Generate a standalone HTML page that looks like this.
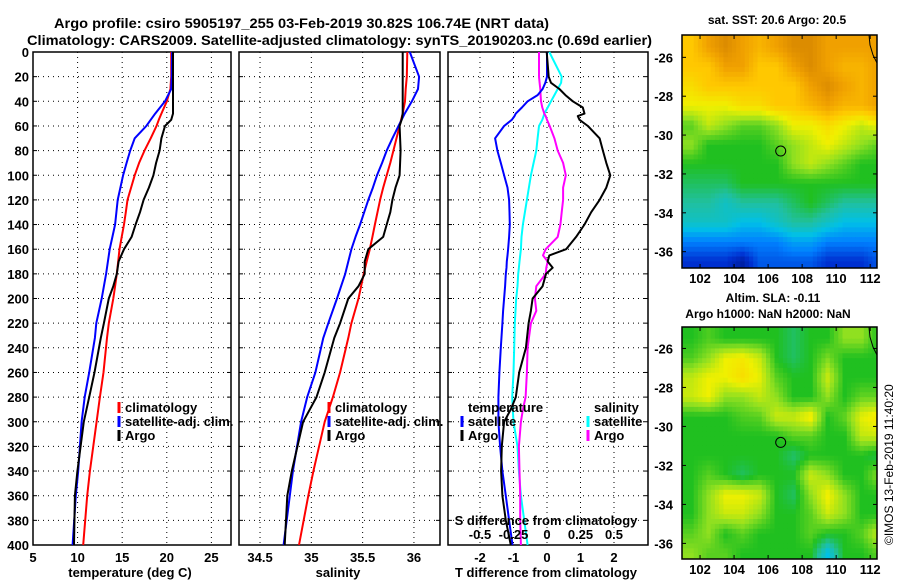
<!DOCTYPE html>
<html><head><meta charset="utf-8">
<style>
html,body{margin:0;padding:0;background:#fff;}
svg{display:block;font-family:"Liberation Sans",Arial,sans-serif;font-weight:bold;}
</style></head>
<body>
<svg id="fig" width="900" height="580" viewBox="0 0 900 580" xmlns="http://www.w3.org/2000/svg">
<text x="54" y="28" font-size="14" textLength="495" lengthAdjust="spacingAndGlyphs">Argo profile: csiro 5905197_255 03-Feb-2019 30.82S 106.74E (NRT data)</text>
<text x="27" y="45" font-size="14" textLength="625" lengthAdjust="spacingAndGlyphs">Climatology: CARS2009. Satellite-adjusted climatology: synTS_20190203.nc (0.69d earlier)</text>
<g id="p1"></g>
<g id="p2"></g>
<g id="p3"></g>
<g id="m1"></g>
<g id="m2"></g>
<text transform="translate(893,545) rotate(-90)" font-size="12" font-weight="normal">©IMOS 13-Feb-2019 11:40:20</text>
</svg>
<script>
// ---------------- data ----------------
const depths = [0,20,30,40,50,55,60,70,80,90,100,110,120,130,140,150,160,170,180,190,200,220,232,260,280,300,340,360,400];
const tempClim = [20.5,20.5,20.4,20.0,19.4,19.1,18.85,18.2,17.5,16.9,16.4,16.0,15.6,15.4,15.2,14.95,14.7,14.55,14.4,14.2,14.0,13.5,13.3,12.9,12.5,12.13,11.38,11.08,10.63];
const tempSat = [20.6,20.55,20.5,19.8,18.7,18.2,17.7,16.4,15.9,15.5,15.1,14.8,14.5,14.35,14.2,13.9,13.6,13.4,13.2,12.95,12.7,12.1,11.94,11.3,10.8,10.45,10.07,9.8,9.44];
const tempArgo = [20.7,20.7,20.7,20.7,20.7,20.5,19.8,19.4,19.2,18.8,18.5,18.0,17.4,17.0,16.5,16.05,15.2,14.6,14.4,14.0,13.5,12.95,12.6,11.9,11.3,10.7,9.98,9.7,9.6];
const salClim = [35.935,35.93,35.92,35.913,35.89,35.875,35.86,35.83,35.80,35.77,35.735,35.70,35.67,35.645,35.62,35.595,35.57,35.54,35.51,35.485,35.46,35.39,35.36,35.28,35.21,35.13,35.02,34.97,34.88];
const salSat = [35.96,36.05,36.04,35.98,35.91,35.88,35.85,35.79,35.735,35.69,35.64,35.60,35.555,35.515,35.475,35.43,35.39,35.36,35.33,35.29,35.25,35.165,35.117,35.04,34.96,34.90,34.82,34.79,34.73];
const salArgo = [35.89,35.89,35.89,35.89,35.89,35.88,35.86,35.865,35.87,35.865,35.86,35.82,35.79,35.77,35.735,35.70,35.555,35.52,35.52,35.46,35.36,35.28,35.224,35.13,35.05,34.92,34.81,34.766,34.74];
const diffDepths = [0,20,25,30,35,40,45,50,52,55,60,70,80,90,100,110,120,130,140,150,160,165,170,175,180,190,200,210,220,240,260,280,290,300,320,340,360,380,400];
const dTsat = [0,0,-0.05,-0.13,-0.28,-0.58,-0.75,-0.93,-0.97,-1.05,-1.28,-1.55,-1.48,-1.38,-1.28,-1.18,-1.13,-1.12,-1.11,-1.13,-1.16,-1.18,-1.2,-1.21,-1.23,-1.25,-1.28,-1.31,-1.33,-1.38,-1.42,-1.45,-1.45,-1.45,-1.4,-1.33,-1.23,-1.13,-1.03];
const dTargo = [-0.01,0.05,0.12,0.37,0.55,0.77,1.07,1.12,0.92,0.97,1.22,1.57,1.67,1.77,1.89,1.77,1.57,1.32,1.12,0.87,0.57,0.07,0.02,0.17,-0.03,-0.13,-0.43,-0.48,-0.55,-0.63,-0.83,-0.93,-1.08,-1.28,-1.35,-1.37,-1.33,-1.23,-1.08];
const dSsat = [0.0175,0.11,0.105,0.08,0.055,0.03,0.005,-0.02,-0.025,-0.035,-0.06,-0.07,-0.08,-0.10,-0.12,-0.135,-0.15,-0.165,-0.18,-0.19,-0.195,-0.2,-0.205,-0.21,-0.215,-0.22,-0.23,-0.235,-0.24,-0.245,-0.25,-0.26,-0.255,-0.25,-0.22,-0.21,-0.195,-0.17,-0.145];
const dSargo = [-0.06,-0.06,-0.055,-0.05,-0.048,-0.045,-0.035,-0.02,-0.01,0.0,0.02,0.055,0.08,0.12,0.14,0.12,0.12,0.11,0.1,0.08,-0.01,-0.03,0.005,-0.005,-0.01,-0.08,-0.09,-0.08,-0.12,-0.145,-0.15,-0.16,-0.18,-0.195,-0.21,-0.205,-0.2,-0.2,-0.195];
const depthTicks = [0,20,40,60,80,100,120,140,160,180,200,220,240,260,280,300,320,340,360,380,400];
const tempTicks = [5,10,15,20,25];
const salTicks = [34.5,35,35.5,36];
const tdTicks = [-2,-1,0,1,2];
const sdTicks = [-0.5,-0.25,0,0.25,0.5];
const sdLabels = ["-0.5","-0.25","0","0.25","0.5"];
const latTicks = [-26,-28,-30,-32,-34,-36];
const lonTicks = [102,104,106,108,110,112];
const argoLon = 106.74, argoLat = -30.82;
// map grids: cell centres at lat -25.5,-26.5,... and lon 101.5,102.5,...; colour index 0..10
const sstGrid = [
[8,9,9.5,9,8.5,9,9.5,9.5,9,9,9,9],
[8,8,9,9,8,8,9,9.5,9,8.5,8.5,9],
[7.5,8,8,8,8,8,8,9,9.5,9,8.5,9],
[7,7,7,7.5,7.5,8,8,8.5,9,8.5,8.5,9],
[5.5,6.5,6,5.5,5.5,6,7,7,7.5,7,6.5,7],
[6,5,5,5,5,5.5,6,6.5,7,6.5,6,5.5],
[5,5,5,5,5,5,6,6.5,6,5.5,5,5],
[4.5,4.5,4.5,5,5,5,5,5,5,5,5,5],
[4,4,3.5,4,4,4,4.5,5,4.5,4,4,4],
[3.5,3.5,3.5,3,3,3.5,4,4,3.5,3,3,3],
[2,2,2,2,2,2,2.5,2.5,2,2,2,2],
[1,1,1,0.5,1.5,1.5,1.5,1.5,1,1,1,1.5]];
const slaGrid = [
[5,5.4,5,5,5,5,4.5,5,5,6,6,5],
[5.4,6,7,7.2,6.6,5,4.5,5,5.8,5,5,5],
[6.5,7,7,7.5,6.9,5.5,5,5,6.6,5,5,5],
[6.6,7,6,6,6.5,6,5,5,6,5,5.6,5.6],
[5,5,5,5.4,5.5,6.6,6.6,7.2,5,5.6,6.9,7.3],
[5,5,5,5,5,5,5.5,5.5,5,5,6.5,6.6],
[5,5,5,5,5,5,4.4,5,5,5,5,4.6],
[5,5.5,5,4.5,5,5,5,6.6,6,5,5,6],
[5,6,7,7,6.6,5,4.5,6,7.1,6,5,5],
[5,6,6.6,6.6,6,5,5,5.5,6.6,6,5,5],
[5.5,6,5,5.5,5,5,5,5.5,5,5,5.5,6.6],
[6,5.5,5.5,5,5,5,5,5,3,5,5,5.5]];
const cmap = ["#00107a","#0030d0","#0080ff","#00c0e8","#20c0a0","#20c020","#90e020","#f0f000","#ffc800","#f0a000","#c87800"];

// ---------------- helpers ----------------
const NS="http://www.w3.org/2000/svg";
function mk(parent,tag,attrs,txt){const e=document.createElementNS(NS,tag);for(const k in attrs)e.setAttribute(k,attrs[k]);if(txt!==undefined)e.textContent=txt;parent.appendChild(e);return e;}
const Y0=52, Y1=545;
const yD = d => Y0 + (d/400)*(Y1-Y0);
function lin(d0,d1,r0,r1){return v=>r0+(v-d0)/(d1-d0)*(r1-r0);}
const xT = lin(5,27.2,33,231);
const xS = lin(34.295,36.254,239,440);
const xTd = lin(-3,3,446.5,647.5);
const xSd = v => xTd(v*4);

function hex2rgb(h){return [1,3,5].map(i=>parseInt(h.substr(i,2),16));}
function colorAt(v){
  v=Math.max(0,Math.min(10,v));const lo=Math.min(9,Math.floor(v)),f=v-lo;
  const a=hex2rgb(cmap[lo]),b=hex2rgb(cmap[lo+1]);
  return 'rgb('+a.map((x,i)=>Math.round(x+(b[i]-x)*f)).join(',')+')';
}
function frame(g,x0,x1,vticks,xf,name){
  vticks.forEach(v=>{const x=xf(v); if(x>x0+1&&x<x1-1){
    const l=mk(g,'line',{x1:x,x2:x,y1:Y0,y2:Y1,stroke:'#000','stroke-width':1,'stroke-dasharray':'1,4'});
    
    
  }});
  depthTicks.forEach(d=>{if(d>0&&d<400){
    const l=mk(g,'line',{x1:x0,x2:x1,y1:yD(d),y2:yD(d),stroke:'#000','stroke-width':1,'stroke-dasharray':'1,4'});
    
    
    mk(g,'line',{x1:x0,x2:x0+4,y1:yD(d),y2:yD(d),stroke:'#000'});
    mk(g,'line',{x1:x1-4,x2:x1,y1:yD(d),y2:yD(d),stroke:'#000'});
  }});
  const r=mk(g,'rect',{x:x0,y:Y0,width:x1-x0,height:Y1-Y0,fill:'none',stroke:'#000','stroke-width':1.5});
  
  
}
function line(g,xs,ds,xf,color,name,w){
  const pts=xs.map((v,i)=>xf(v).toFixed(1)+','+yD(ds[i]).toFixed(1)).join(' ');
  const p=mk(g,'polyline',{points:pts,fill:'none',stroke:color,'stroke-width':w||2,'stroke-linejoin':'round'});
  
  
}
function label(g,x,y,t,anchor,size,name){
  const e=mk(g,'text',{x:x,y:y,'text-anchor':anchor||'middle','font-size':size||13},t);
  
  
  return e;
}
function legendEntry(g,x,y,color,t,name){
  mk(g,'line',{x1:x,x2:x,y1:y-10,y2:y+1,stroke:color,'stroke-width':3});
  const e=mk(g,'text',{x:x+6,y:y,'font-size':13},t);
  
  
}

// ---------------- panel 1 ----------------
const p1=document.getElementById('p1');
frame(p1,33,231,tempTicks,xT,'temperature');
depthTicks.forEach(d=>label(p1,29,yD(d)+5,String(d),'end',13,'depth-tick-label'));
tempTicks.forEach(v=>label(p1,xT(v),562,String(v),'middle',13,'temperature-tick-label'));
label(p1,130,577,'temperature (deg C)','middle',13,'x-axis-title-temperature');
line(p1,tempClim,depths,xT,'#f00','temperature-climatology-line');
line(p1,tempSat,depths,xT,'#00f','temperature-satellite-line');
line(p1,tempArgo,depths,xT,'#000','temperature-argo-line');
legendEntry(p1,119,412,'#f00','climatology','legend-climatology');
legendEntry(p1,119,426,'#00f','satellite-adj. clim.','legend-satellite-adj');
legendEntry(p1,119,440,'#000','Argo','legend-argo');

// ---------------- panel 2 ----------------
const p2=document.getElementById('p2');
frame(p2,239,440,salTicks,xS,'salinity');
salTicks.forEach(v=>label(p2,xS(v),562,String(v),'middle',13,'salinity-tick-label'));
label(p2,338,577,'salinity','middle',13,'x-axis-title-salinity');
line(p2,salClim,depths,xS,'#f00','salinity-climatology-line');
line(p2,salSat,depths,xS,'#00f','salinity-satellite-line');
line(p2,salArgo,depths,xS,'#000','salinity-argo-line');
legendEntry(p2,329,412,'#f00','climatology','legend-climatology');
legendEntry(p2,329,426,'#00f','satellite-adj. clim.','legend-satellite-adj');
legendEntry(p2,329,440,'#000','Argo','legend-argo');

// ---------------- panel 3 ----------------
const p3=document.getElementById('p3');
frame(p3,448,648,tdTicks,xTd,'difference');
tdTicks.forEach(v=>label(p3,xTd(v),562,String(v),'middle',13,'t-diff-tick-label'));
label(p3,546,577,'T difference from climatology','middle',13,'x-axis-title-t-difference');
line(p3,dSsat,diffDepths,xSd,'#00ffff','salinity-diff-satellite-line');
line(p3,dSargo,diffDepths,xSd,'#ff00ff','salinity-diff-argo-line');
line(p3,dTsat,diffDepths,xTd,'#00f','temperature-diff-satellite-line');
line(p3,dTargo,diffDepths,xTd,'#000','temperature-diff-argo-line');
label(p3,546,525,'S difference from climatology','middle',13,'s-difference-title');
sdTicks.forEach((v,i)=>label(p3,xSd(v),539,sdLabels[i],'middle',13,'s-diff-tick-label'));
label(p3,468,412,'temperature','start',13,'legend-temperature-header');
legendEntry(p3,462,426,'#00f','satellite','legend-t-satellite');
legendEntry(p3,462,440,'#000','Argo','legend-t-argo');
label(p3,594,412,'salinity','start',13,'legend-salinity-header');
legendEntry(p3,588,426,'#00ffff','satellite','legend-s-satellite');
legendEntry(p3,588,440,'#ff00ff','Argo','legend-s-argo');

// ---------------- maps ----------------
function sampleGrid(grid,lon,lat){
  const fc=Math.max(0,Math.min(grid[0].length-1,lon-101.5));
  const fr=Math.max(0,Math.min(grid.length-1,-25.5-lat));
  const c0=Math.floor(fc),r0=Math.floor(fr);
  const c1=Math.min(grid[0].length-1,c0+1),r1=Math.min(grid.length-1,r0+1);
  const tx=fc-c0,ty=fr-r0;
  const a=grid[r0][c0]*(1-tx)+grid[r0][c1]*tx;
  const b=grid[r1][c0]*(1-tx)+grid[r1][c1]*tx;
  return a*(1-ty)+b*ty;
}
function drawMap(g,top,bottom,grid,name,titles){
  const L=682,R=877,lon0=100.94,lon1=112.4,lat0=top.lat,lat1=bottom.lat;
  const mx=lin(lon0,lon1,L,R), my=lin(lat0,lat1,top.y,bottom.y);
  const cid='clip-'+name;
  const defs=mk(g,'defs',{});
  const cp=mk(defs,'clipPath',{id:cid});
  mk(cp,'rect',{x:L,y:top.y,width:R-L,height:bottom.y-top.y});
  const cells=mk(g,'g',{'clip-path':'url(#'+cid+')'});
  const step=0.25;
  for(let lat=-24.75;lat>-37;lat-=step){
    for(let lon=100.875;lon<112.5;lon+=step){
      const v=sampleGrid(grid,lon+step/2,lat-step/2);
      const rc=mk(cells,'rect',{x:mx(lon).toFixed(1),y:my(lat).toFixed(1),width:(mx(step)-mx(0)+0.5).toFixed(1),height:(my(-step)-my(0)+0.5).toFixed(1),fill:colorAt(v)});
      
      
    }
  }
  mk(cells,'path',{d:`M${R-8},${top.y} L${R-7},${top.y+10} L${R-4},${top.y+20} L${R},${top.y+28}`,fill:'none',stroke:'#000','stroke-width':1});
  const fr=mk(g,'rect',{x:L,y:top.y,width:R-L,height:bottom.y-top.y,fill:'none',stroke:'#000','stroke-width':1.5});
  
  
  latTicks.forEach(v=>{const y=my(v);
    mk(g,'line',{x1:L,x2:L+4,y1:y,y2:y,stroke:'#000'});
    mk(g,'line',{x1:R-4,x2:R,y1:y,y2:y,stroke:'#000'});
    label(g,673,y+5,String(v),'end',13,'latitude-tick-label');});
  lonTicks.forEach(v=>{const x=mx(v);
    mk(g,'line',{x1:x,x2:x,y1:bottom.y-4,y2:bottom.y,stroke:'#000'});
    mk(g,'line',{x1:x,x2:x,y1:top.y,y2:top.y+4,stroke:'#000'});
    label(g,x,bottom.y+15,String(v),'middle',13,'longitude-tick-label');});
  const c=mk(g,'circle',{cx:mx(argoLon),cy:my(argoLat),r:5,fill:'none',stroke:'#000','stroke-width':1});
  
  
  titles.forEach(t=>label(g,t.x,t.y,t.s,'middle',12,t.n));
}
drawMap(document.getElementById('m1'),{y:35,lat:-24.85},{y:268,lat:-36.84},sstGrid,'sst-map',
  [{x:777,y:24,s:'sat. SST: 20.6 Argo: 20.5',n:'sst-map-title'}]);
drawMap(document.getElementById('m2'),{y:327,lat:-24.9},{y:559,lat:-36.8},slaGrid,'sla-map',
  [{x:773,y:302,s:'Altim. SLA: -0.11',n:'sla-map-title'},{x:768,y:318,s:'Argo h1000: NaN h2000: NaN',n:'sla-map-subtitle'}]);
</script>
</body></html>
